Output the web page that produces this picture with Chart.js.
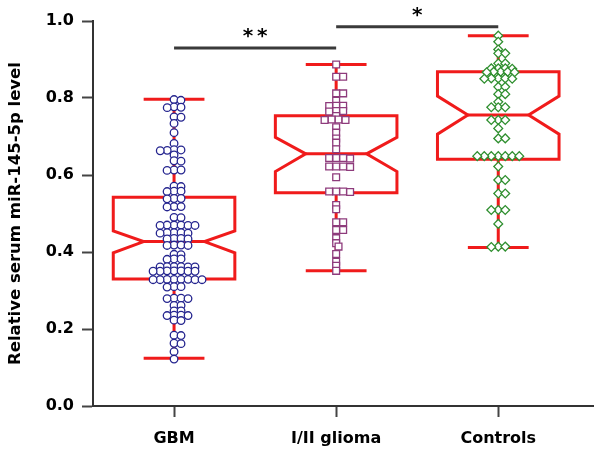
<!DOCTYPE html>
<html>
<head>
<meta charset="utf-8">
<script src="https://cdn.jsdelivr.net/npm/chart.js@4.4.1/dist/chart.umd.min.js"></script>
<style>
  html, body { margin: 0; padding: 0; background: #fff; }
  #wrap { width: 600px; height: 451px; }
</style>
</head>
<body>
<div id="wrap"><canvas id="mirChart"></canvas></div>
<script>
const groups = ['GBM', 'I/II glioma', 'Controls']

// individual serum levels
const gbm = [0.796, 0.794, 0.777, 0.776, 0.775, 0.751, 0.750, 0.734, 0.710, 0.682, 0.666, 0.665, 0.664,
    0.663, 0.652, 0.637, 0.636, 0.613, 0.613, 0.612, 0.571, 0.570, 0.558, 0.558, 0.557, 0.539, 0.539, 0.538,
    0.518, 0.518, 0.517, 0.490, 0.489, 0.470, 0.470, 0.470, 0.469, 0.469, 0.469, 0.450, 0.450, 0.450, 0.449,
    0.449, 0.435, 0.435, 0.434, 0.434, 0.418, 0.418, 0.417, 0.417, 0.394, 0.393, 0.382, 0.382, 0.381, 0.362,
    0.362, 0.362, 0.361, 0.361, 0.361, 0.351, 0.351, 0.351, 0.350, 0.350, 0.350, 0.350, 0.329, 0.329, 0.329,
    0.329, 0.328, 0.328, 0.328, 0.328, 0.310, 0.310, 0.309, 0.280, 0.280, 0.279, 0.279, 0.261, 0.261, 0.247,
    0.247, 0.236, 0.236, 0.235, 0.235, 0.223, 0.222, 0.184, 0.183, 0.163, 0.162, 0.141, 0.122]
const glioma = [0.887, 0.855, 0.855, 0.812, 0.812, 0.793, 0.780, 0.780, 0.779, 0.766, 0.766, 0.765, 0.753,
    0.744, 0.744, 0.743, 0.743, 0.724, 0.710, 0.695, 0.684, 0.667, 0.644, 0.644, 0.644, 0.643, 0.622, 0.622,
    0.622, 0.621, 0.594, 0.557, 0.557, 0.557, 0.556, 0.522, 0.511, 0.477, 0.477, 0.457, 0.457, 0.436, 0.423,
    0.414, 0.395, 0.375, 0.364, 0.351]
const controls = [0.962, 0.946, 0.926, 0.916, 0.916, 0.890, 0.890, 0.877, 0.877, 0.877, 0.876, 0.868, 0.868,
    0.868, 0.867, 0.867, 0.851, 0.851, 0.851, 0.850, 0.850, 0.829, 0.829, 0.810, 0.810, 0.790, 0.776, 0.776,
    0.776, 0.743, 0.743, 0.743, 0.721, 0.695, 0.695, 0.649, 0.649, 0.649, 0.649, 0.649, 0.649, 0.649, 0.622,
    0.587, 0.587, 0.552, 0.552, 0.509, 0.509, 0.509, 0.473, 0.414, 0.414, 0.413]

// box statistics per group
const whiskerLo = [0.124, 0.351, 0.412]
const q1 = [0.330, 0.554, 0.641]
const notchLo = [0.398, 0.609, 0.706]
const median = [0.427, 0.655, 0.756]
const notchHi = [0.455, 0.698, 0.805]
const q3 = [0.542, 0.754, 0.868]
const whiskerHi = [0.797, 0.887, 0.962]

const yTicks = [0, 0.2, 0.4, 0.6, 0.8, 1.0]

// significance brackets
const sigFrom = [0, 1]
const sigTo = [1, 2]
const sigLevel = [0.93, 0.985]
const sigText = ['**', '*']

const boxRed = '#f01b1b'
const navy = '#25258f'
const plum = '#8e3b7c'
const green = '#2f8f2f'

Chart.defaults.font.family = 'DejaVu Sans'
Chart.defaults.font.weight = 'bold'
Chart.defaults.color = '#000'

const boxPlugin = {
    id: 'notchedBoxes',
    beforeDatasetsDraw(chart) {
        const { ctx, scales: { x, y } } = chart
        const halfW = 0.375
        ctx.save()
        ctx.strokeStyle = boxRed
        ctx.lineWidth = 3
        ctx.lineJoin = 'miter'
        groups.forEach((g, i) => {
            const cx = x.getPixelForValue(i)
            const hw = x.getPixelForValue(i + halfW) - cx
            const py = v => y.getPixelForValue(v)
            ctx.beginPath()
            ctx.moveTo(cx, py(whiskerHi[i]))
            ctx.lineTo(cx, py(q3[i]))
            ctx.moveTo(cx, py(q1[i]))
            ctx.lineTo(cx, py(whiskerLo[i]))
            ctx.moveTo(cx - hw / 2, py(whiskerHi[i]))
            ctx.lineTo(cx + hw / 2, py(whiskerHi[i]))
            ctx.moveTo(cx - hw / 2, py(whiskerLo[i]))
            ctx.lineTo(cx + hw / 2, py(whiskerLo[i]))
            ctx.moveTo(cx - hw / 2, py(median[i]))
            ctx.lineTo(cx + hw / 2, py(median[i]))
            ctx.stroke()

            ctx.beginPath()
            ctx.moveTo(cx - hw, py(q3[i]))
            ctx.lineTo(cx + hw, py(q3[i]))
            ctx.lineTo(cx + hw, py(notchHi[i]))
            ctx.lineTo(cx + hw / 2, py(median[i]))
            ctx.lineTo(cx + hw, py(notchLo[i]))
            ctx.lineTo(cx + hw, py(q1[i]))
            ctx.lineTo(cx - hw, py(q1[i]))
            ctx.lineTo(cx - hw, py(notchLo[i]))
            ctx.lineTo(cx - hw / 2, py(median[i]))
            ctx.lineTo(cx - hw, py(notchHi[i]))
            ctx.closePath()
            ctx.stroke()
        })
        ctx.restore()
    }
}

const sigPlugin = {
    id: 'sigBars',
    afterDraw(chart) {
        const { ctx, scales: { x, y } } = chart
        ctx.save()
        ctx.strokeStyle = '#3a3a3a'
        ctx.fillStyle = '#000'
        ctx.lineWidth = 3
        ctx.font = 'bold 20px "DejaVu Sans"'
        ctx.textAlign = 'center'
        ctx.textBaseline = 'alphabetic'
        ctx.letterSpacing = '4px'
        sigText.forEach((t, i) => {
            const x0 = x.getPixelForValue(sigFrom[i])
            const x1 = x.getPixelForValue(sigTo[i])
            const py = y.getPixelForValue(sigLevel[i])
            ctx.beginPath()
            ctx.moveTo(x0, py)
            ctx.lineTo(x1, py)
            ctx.stroke()
            ctx.fillText(t, (x0 + x1) / 2 + 2, py - 6)
        })
        ctx.restore()
    }
}

const chart = new Chart('mirChart', {
    type: 'scatter',
    data: {
        datasets: [
            {
                label: groups[0],
                data: gbm.map(v => ({ x: 0, y: v })),
                pointStyle: 'circle',
                pointRadius: 3.8,
                borderWidth: 1.3,
                borderColor: navy,
                backgroundColor: '#fff',
            },
            {
                label: groups[1],
                data: glioma.map(v => ({ x: 1, y: v })),
                pointStyle: 'rect',
                pointRadius: 4.8,
                borderWidth: 1.3,
                borderColor: plum,
                backgroundColor: '#fff',
            },
            {
                label: groups[2],
                data: controls.map(v => ({ x: 2, y: v })),
                pointStyle: 'rectRot',
                pointRadius: 4.4,
                borderWidth: 1.3,
                borderColor: green,
                backgroundColor: '#fff',
            },
        ]
    },
    options: {
        animation: false,
        responsive: true,
        maintainAspectRatio: false,
        layout: { padding: { top: 21, right: 0, left: 0, bottom: 0 } },
        plugins: {
            legend: { display: false },
            tooltip: { enabled: false },
        },
        scales: {
            x: {
                type: 'linear',
                min: -0.5,
                max: 2.59,
                afterBuildTicks: axis => { axis.ticks = groups.map((g, i) => ({ value: i })) },
                afterFit: axis => { axis.height = 45 },
                grid: { drawOnChartArea: false, tickLength: 11, tickWidth: 2, tickColor: '#444' },
                border: { color: '#333', width: 2 },
                ticks: {
                    callback: v => groups[v],
                    font: { size: 16, weight: 'bold' },
                    padding: 12,
                    maxRotation: 0,
                },
            },
            y: {
                min: 0,
                max: 1,
                afterBuildTicks: axis => { axis.ticks = yTicks.map(v => ({ value: v })) },
                afterFit: axis => { axis.width = 93 },
                grid: { drawOnChartArea: false, tickLength: 11, tickWidth: 2, tickColor: '#444' },
                border: { color: '#333', width: 2 },
                ticks: {
                    callback: v => v.toFixed(1),
                    font: { size: 16, weight: 'bold' },
                    padding: 8,
                },
                title: {
                    display: true,
                    text: 'Relative serum miR-145-5p level',
                    font: { size: 16.5, weight: 'bold' },
                    padding: { top: 6, bottom: 0 },
                },
            },
        },
    },
    plugins: [boxPlugin, sigPlugin],
})

// beeswarm layout; dots may overlap a little vertically, as in the figure
function placeSwarm() {
    const xs = chart.scales.x
    const ys = chart.scales.y
    const gap = 7
    const squash = 1.9
    ;[gbm, glioma, controls].forEach((vals, g) => {
        const cx = xs.getPixelForValue(g)
        const placed = []
        const pts = new Array(vals.length)
        const order = vals.map((v, i) => i).sort((a, b) => vals[b] - vals[a])
        order.forEach(i => {
            const py = ys.getPixelForValue(vals[i])
            const near = placed.filter(p => Math.abs(p.y - py) * squash < gap)
            const cands = [0]
            near.forEach(p => {
                const dy = (p.y - py) * squash
                const dx = Math.sqrt(gap * gap - dy * dy)
                cands.push(p.x + dx, p.x - dx)
            })
            cands.sort((a, b) => Math.abs(a) - Math.abs(b))
            const off = cands.find(c => near.every(p =>
                Math.hypot(p.x - c, (p.y - py) * squash) >= gap - 0.01))
            placed.push({ x: off, y: py })
            pts[i] = { x: xs.getValueForPixel(cx + off), y: vals[i] }
        })
        chart.data.datasets[g].data = pts
    })
    chart.update('none')
}
placeSwarm()
</script>
</body>
</html>
